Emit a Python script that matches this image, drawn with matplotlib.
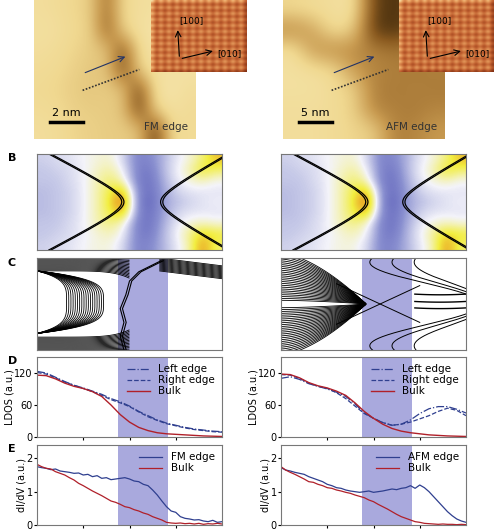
import numpy as np
import matplotlib.pyplot as plt
from matplotlib.colors import LinearSegmentedColormap

W, H = 499, 530
fig = plt.figure(figsize=(W / 100, H / 100), dpi=100)

def ax_px(x0, y0, x1, y1):
    return fig.add_axes([x0 / W, 1 - y1 / H, (x1 - x0) / W, (y1 - y0) / H])

BAND = (0.44, 0.71)
BAND_C = "#a9a9dd"
BLUE = "#2f3f8f"
RED = "#b0202a"

# ---------------- data ----------------
# topographs (coarse height maps, 0 dark .. 1 bright)
fm_topo = [
    [.80, .78, .75, .70, .35, .75, .80, .82, .80, .80],
    [.82, .80, .76, .72, .30, .72, .82, .85, .82, .80],
    [.80, .78, .74, .70, .66, .25, .76, .85, .80, .82],
    [.78, .76, .72, .68, .66, .22, .72, .82, .82, .84],
    [.76, .74, .70, .68, .70, .66, .20, .80, .86, .80],
    [.78, .76, .72, .70, .70, .66, .18, .74, .82, .78],
    [.80, .78, .74, .72, .70, .70, .66, .15, .76, .78],
]
afm_topo = [
    [.75, .78, .80, .82, .15, .10, .15, .20],
    [.45, .55, .80, .70, .12, .10, .18, .25],
    [.80, .50, .45, .45, .40, .35, .38, .40],
    [.82, .80, .75, .50, .42, .40, .38, .40],
    [.82, .82, .78, .72, .40, .38, .40, .38],
    [.80, .80, .78, .72, .42, .40, .38, .42],
    [.80, .80, .78, .74, .70, .40, .42, .50],
]
lattice_cell = [[.9, .5], [.5, .3]]

# spectroscopy maps (B)
b_left = [
    [.38, .40, .42, .45, .48, .50, .40, .22, .22, .32, .42, .48, .58, .74],
    [.36, .38, .40, .44, .50, .55, .45, .22, .18, .32, .44, .52, .68, .60],
    [.36, .36, .40, .44, .52, .60, .52, .22, .16, .30, .42, .48, .52, .46],
    [.34, .36, .38, .44, .52, .64, .76, .26, .15, .28, .38, .42, .42, .42],
    [.34, .36, .38, .44, .52, .66, .92, .26, .12, .28, .34, .38, .42, .44],
    [.34, .36, .38, .44, .52, .64, .76, .26, .15, .28, .38, .42, .42, .42],
    [.36, .36, .40, .44, .52, .58, .50, .22, .16, .30, .42, .48, .52, .48],
    [.36, .38, .40, .44, .48, .52, .45, .22, .18, .32, .44, .56, .70, .66],
    [.38, .40, .42, .45, .48, .48, .40, .22, .22, .32, .42, .52, .82, .60],
]
b_right = b_left

# D: LDOS
xd = [0, .05, .1, .15, .2, .25, .3, .35, .4, .45, .5, .55, .6, .65, .7, .75, .8, .85, .9, .95, 1.0]
fm_left = [123, 120, 112, 104, 97, 92, 86, 80, 72, 66, 58, 48, 40, 32, 26, 22, 18, 15, 13, 11, 10]
fm_right = [121, 118, 111, 103, 97, 91, 85, 78, 70, 64, 57, 47, 38, 31, 25, 21, 17, 14, 12, 10, 9]
fm_bulk = [116, 115, 109, 101, 95, 91, 85, 76, 60, 42, 28, 18, 12, 8, 6, 5, 4, 3, 2, 1.5, 1]
afm_left = [110, 113, 108, 100, 95, 90, 84, 76, 62, 45, 35, 27, 22, 24, 32, 44, 53, 57, 57, 52, 45]
afm_right = [117, 116, 110, 101, 95, 91, 83, 72, 58, 44, 35, 27, 22, 24, 28, 34, 40, 48, 54, 50, 40]
afm_bulk = [118, 117, 111, 102, 96, 92, 86, 78, 64, 48, 35, 24, 16, 11, 8, 6, 4, 3, 2, 1.5, 1]

# E: dI/dV (noisy measured traces)
xe = np.linspace(0, 1, 41)
fm_edge = [1.75, 1.72, 1.70, 1.66, 1.68, 1.62, 1.60, 1.58, 1.55, 1.56, 1.50, 1.52, 1.45, 1.48,
           1.40, 1.42, 1.36, 1.38, 1.40, 1.42, 1.38, 1.32, 1.30, 1.22, 1.18, 1.05, 0.90, 0.72,
           0.55, 0.42, 0.38, 0.25, 0.20, 0.18, 0.15, 0.16, 0.12, 0.10, 0.14, 0.08, 0.10]
fm_bulkE = [1.82, 1.75, 1.70, 1.68, 1.60, 1.55, 1.50, 1.42, 1.35, 1.25, 1.18, 1.10, 1.02, 0.95,
            0.88, 0.80, 0.72, 0.68, 0.62, 0.55, 0.52, 0.46, 0.42, 0.36, 0.32, 0.25, 0.20, 0.15,
            0.08, 0.06, 0.05, 0.06, 0.04, 0.05, 0.03, 0.05, 0.02, 0.04, 0.03, 0.05, 0.03]
afm_edge = [1.72, 1.65, 1.62, 1.58, 1.55, 1.52, 1.45, 1.40, 1.35, 1.30, 1.22, 1.18, 1.12, 1.10,
            1.05, 1.02, 1.00, 0.98, 1.00, 1.02, 0.98, 1.00, 1.02, 1.05, 1.08, 1.06, 1.10, 1.12,
            1.18, 1.10, 1.20, 1.12, 1.00, 0.85, 0.70, 0.55, 0.40, 0.28, 0.18, 0.12, 0.08]
afm_bulkE = [1.75, 1.65, 1.58, 1.52, 1.45, 1.38, 1.30, 1.28, 1.22, 1.18, 1.12, 1.10, 1.05, 1.02,
             0.98, 0.95, 0.90, 0.86, 0.82, 0.75, 0.70, 0.62, 0.55, 0.48, 0.40, 0.32, 0.25, 0.20,
             0.15, 0.10, 0.08, 0.05, 0.04, 0.03, 0.02, 0.03, 0.02, 0.02, 0.01, 0.02, 0.01]

# C: band-structure line families (offsets)
c_top_offsets = np.linspace(0.86, 1.0, 14)
c_bulge_vertex = np.linspace(0.16, 0.36, 18)
c_conv_spread = np.linspace(0.04, 0.55, 26)
fm_edge_state = ([0.67, 0.62, 0.55, 0.50, 0.48, 0.45, 0.47, 0.45, 0.47],
                 [0.97, 0.92, 0.85, 0.75, 0.60, 0.45, 0.30, 0.15, 0.00])

# ---------------- A: topographs ----------------
topo_cmap = LinearSegmentedColormap.from_list(
    "topo", ["#2a1a05", "#8a5a20", "#c89a50", "#f0d890", "#fbf3c8"])
inset_cmap = LinearSegmentedColormap.from_list(
    "ins", ["#7a2a10", "#c06030", "#e8a060", "#f8e8b0"])

for (x0, ix0, topo, scale, lab) in [(34, 151, fm_topo, "2 nm", "FM edge"),
                                      (283, 399, afm_topo, "5 nm", "AFM edge")]:
    a = ax_px(x0, 0, x0 + 162, 139)
    a.imshow(topo, cmap=topo_cmap, interpolation="bicubic", aspect="auto",
             extent=[0, 1, 0, 1], vmin=0, vmax=1)
    a.plot([0.3, 0.65], [0.35, 0.5], color="#333333", lw=1.2, ls=(0, (1, 1)))
    a.annotate("", xy=(0.58, 0.6), xytext=(0.3, 0.47),
               arrowprops=dict(arrowstyle="->", color="#223366", lw=0.8))
    a.plot([0.1, 0.3], [0.12, 0.12], color="black", lw=2.5)
    a.text(0.2, 0.15, scale, ha="center", va="bottom", fontsize=8)
    a.text(0.95, 0.05, lab, ha="right", va="bottom", fontsize=7.5, color="#333333")
    a.set_axis_off()
    b = ax_px(ix0, 0, ix0 + 95, 72)
    b.imshow(np.tile(lattice_cell, (12, 12)), cmap=inset_cmap,
             interpolation="bicubic", aspect="auto", extent=[0, 1, 0, 1])
    b.annotate("", xy=(0.28, 0.62), xytext=(0.3, 0.18),
               arrowprops=dict(arrowstyle="->", color="black", lw=0.8))
    b.annotate("", xy=(0.68, 0.3), xytext=(0.3, 0.18),
               arrowprops=dict(arrowstyle="->", color="black", lw=0.8))
    b.text(0.3, 0.68, "[100]", fontsize=6.5)
    b.text(0.7, 0.22, "[010]", fontsize=6.5)
    b.set_axis_off()

# ---------------- B ----------------
spec_cmap = LinearSegmentedColormap.from_list(
    "spec", [(0, "#3a3aa8"), (0.25, "#8a90d0"), (0.45, "#f4f4fa"),
             (0.65, "#f2ee40"), (0.82, "#e89020"), (1, "#c01010")])
yy = np.linspace(0, 1, 200)
for x0, img, rv in [(37, b_left, 0.68), (281, b_right, 0.67)]:
    a = ax_px(x0, 154, x0 + 185, 250)
    a.imshow(img, cmap=spec_cmap, interpolation="bicubic", aspect="auto",
             extent=[0, 1, 0, 1], vmin=0, vmax=1)
    u = (yy - 0.5) / 0.12
    for d in (0, 0.012):
        a.plot(0.47 - d - 0.12 * (np.sqrt(1 + u ** 2) - 1), yy, color="black", lw=0.9)
        a.plot(rv - d + 0.11 * (np.sqrt(1 + u ** 2) - 1), yy, color="black", lw=0.9)
    a.set_xlim(0, 1); a.set_ylim(0, 1)
    a.set_xticks([]); a.set_yticks([])
    for s in a.spines.values():
        s.set_color("#777777")

# ---------------- C ----------------
xs = np.linspace(0, 1, 200)
for x0, kind in [(37, "fm"), (281, "afm")]:
    a = ax_px(x0, 258, x0 + 185, 350)
    a.axvspan(*BAND, color=BAND_C, lw=0)
    if kind == "fm":
        xl = xs[xs < 0.5]
        xr = xs[xs > 0.66]
        for o in c_top_offsets:
            a.plot(xl, o - 0.5 * (1.02 - o) * (xl / 0.5) ** 6, color="black", lw=0.6)
            a.plot(xl, 1 - o + 0.5 * (1.02 - o) * (xl / 0.5) ** 6, color="black", lw=0.6)
            a.plot(xr, o - 0.25 * (xr - 0.66), color="black", lw=0.6)
        for v in c_bulge_vertex:
            a.plot(v * (1 - ((yy - 0.52) / 0.34) ** 4), yy, color="black", lw=0.6)
        for d in (0, 0.012):
            a.plot(np.array(fm_edge_state[0]) + d, fm_edge_state[1], color="black", lw=0.8)
    else:
        xl = xs[xs < 0.46]
        for s in c_conv_spread:
            shape = (1 - (xl / 0.46) ** 1.6)
            a.plot(xl, 0.5 + s * shape, color="black", lw=0.6)
            a.plot(xl, 0.5 - s * shape, color="black", lw=0.6)
        a.plot([0.3, 0.75], [0.72, 0.3], color="black", lw=0.7)
        a.plot([0.3, 0.75], [0.28, 0.7], color="black", lw=0.7)
        for c, w in [(0.78, 0.3), (0.85, 0.25), (0.92, 0.2)]:
            a.plot(c + w * np.cos(np.pi * (yy - 0.5) * 2.2), yy, color="black", lw=0.7)
        for yv in (0.6, 0.52, 0.45):
            a.plot(xs[xs > 0.72], yv + 0.4 * (xs[xs > 0.72] - 0.86) ** 2, color="black", lw=1.0)
    a.set_xlim(0, 1); a.set_ylim(0, 1)
    a.set_xticks([]); a.set_yticks([])
    for s in a.spines.values():
        s.set_color("#777777")

# ---------------- D ----------------
for x0, l, r, bk in [(37, fm_left, fm_right, fm_bulk), (281, afm_left, afm_right, afm_bulk)]:
    a = ax_px(x0, 357, x0 + 185, 437)
    a.axvspan(*BAND, color=BAND_C, lw=0)
    a.plot(xd, l, color=BLUE, lw=0.9, ls="-.", label="Left edge")
    a.plot(xd, r, color=BLUE, lw=0.9, ls="--", label="Right edge")
    a.plot(xd, bk, color=RED, lw=1.0, label="Bulk")
    a.set_xlim(0, 1); a.set_ylim(0, 150)
    a.set_yticks([0, 60, 120]); a.set_xticks([0.25, 0.5, 0.75]); a.set_xticklabels([])
    a.tick_params(labelsize=7, length=2, pad=1)
    a.set_ylabel("LDOS (a.u.)", fontsize=7, labelpad=0)
    a.legend(loc="upper right", fontsize=7.5, frameon=False, handlelength=2.2,
             labelspacing=0.1, borderpad=0.2)
    for s in a.spines.values():
        s.set_color("#777777")

# ---------------- E ----------------
for x0, e, bk, lab in [(37, fm_edge, fm_bulkE, "FM edge"), (281, afm_edge, afm_bulkE, "AFM edge")]:
    a = ax_px(x0, 445, x0 + 185, 525)
    a.axvspan(*BAND, color=BAND_C, lw=0)
    a.plot(xe, e, color=BLUE, lw=0.9, label=lab)
    a.plot(xe, bk, color=RED, lw=0.9, label="Bulk")
    a.set_xlim(0, 1); a.set_ylim(0, 2.4)
    a.set_yticks([0, 1, 2]); a.set_xticks([0.25, 0.5, 0.75]); a.set_xticklabels([])
    a.tick_params(labelsize=7, length=2, pad=1)
    a.set_ylabel("dI/dV (a.u.)", fontsize=7, labelpad=0)
    a.legend(loc="upper right", fontsize=7.5, frameon=False, handlelength=2.2,
             labelspacing=0.1, borderpad=0.2)
    for s in a.spines.values():
        s.set_color("#777777")

for t, y in [("B", 153), ("C", 258), ("D", 356), ("E", 444)]:
    fig.text(8 / W, 1 - y / H, t, fontsize=8, fontweight="bold", va="top")

fig.savefig("out.png", dpi=100)
